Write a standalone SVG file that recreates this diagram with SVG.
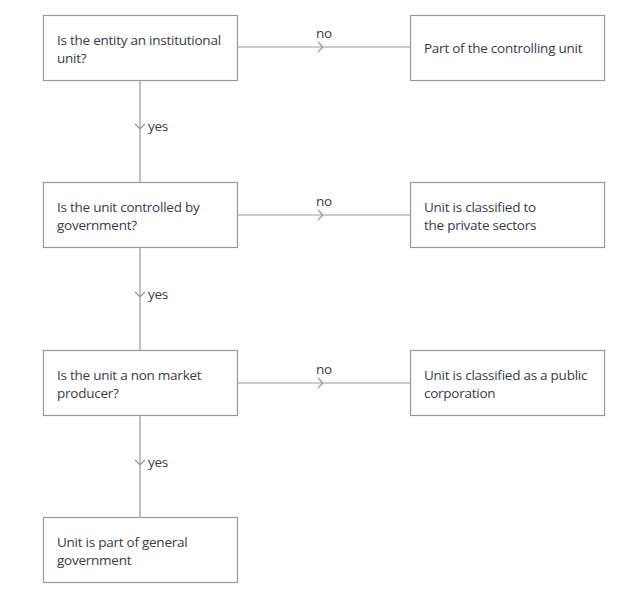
<svg xmlns="http://www.w3.org/2000/svg" width="632" height="589" viewBox="0 0 632 589">
<style>
.box{fill:#fff;stroke:#999;stroke-width:1.2}
.t{font-family:"Open Sans","Liberation Sans",sans-serif;font-size:13.5px;letter-spacing:-0.25px;fill:#3a3a48}
.l{font-family:"Open Sans","Liberation Sans",sans-serif;font-size:13.5px;letter-spacing:-0.25px;fill:#3a3a48}
.c{stroke:#999;stroke-width:1.2;fill:none}
</style>
<rect width="632" height="589" fill="#fff"/>
<g id="connectors">
<path class="c" d="M237.5 47H410.5M318 42l5 5-5 5"/>
<path class="c" d="M237.5 215H410.5M318 210l5 5-5 5"/>
<path class="c" d="M237.5 383H410.5M318 378l5 5-5 5"/>
<path class="c" d="M140 80.5V183M135 124l5 5 5-5"/>
<path class="c" d="M140 247.5V351M135 292l5 5 5-5"/>
<path class="c" d="M140 415.5V518M135 460l5 5 5-5"/>
<text class="l" x="316" y="38">no</text>
<text class="l" x="316" y="206">no</text>
<text class="l" x="316" y="374">no</text>
<text class="l" x="148" y="131">yes</text>
<text class="l" x="148" y="299">yes</text>
<text class="l" x="148" y="467">yes</text>
</g>
<g id="q1"><rect class="box" x="43.5" y="15.5" width="194" height="65"/><text class="t" x="57" y="45">Is the entity an institutional</text><text class="t" x="57" y="63">unit?</text></g>
<g id="r1"><rect class="box" x="410.5" y="15.5" width="194" height="65"/><text class="t" x="424" y="53">Part of the controlling unit</text></g>
<g id="q2"><rect class="box" x="43.5" y="182.5" width="194" height="65"/><text class="t" x="57" y="212">Is the unit controlled by</text><text class="t" x="57" y="230">government?</text></g>
<g id="r2"><rect class="box" x="410.5" y="182.5" width="194" height="65"/><text class="t" x="424" y="212">Unit is classified to</text><text class="t" x="424" y="230">the private sectors</text></g>
<g id="q3"><rect class="box" x="43.5" y="350.5" width="194" height="65"/><text class="t" x="57" y="380">Is the unit a non market</text><text class="t" x="57" y="398">producer?</text></g>
<g id="r3"><rect class="box" x="410.5" y="350.5" width="194" height="65"/><text class="t" x="424" y="380">Unit is classified as a public</text><text class="t" x="424" y="398">corporation</text></g>
<g id="end"><rect class="box" x="43.5" y="517.5" width="194" height="65"/><text class="t" x="57" y="547">Unit is part of general</text><text class="t" x="57" y="565">government</text></g>
</svg>
